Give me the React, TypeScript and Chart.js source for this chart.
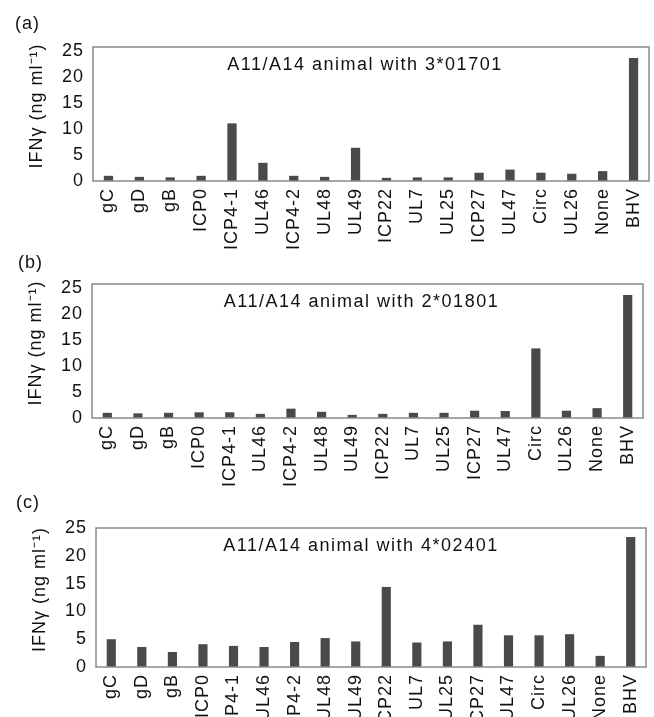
import React, { useEffect, useRef } from "react";
import { Chart, registerables } from "chart.js";
Chart.register(...registerables);

const categories = ["gC", "gD", "gB", "ICP0", "ICP4-1", "UL46", "ICP4-2", "UL48", "UL49", "ICP22", "UL7", "UL25", "ICP27", "UL47", "Circ", "UL26", "None", "BHV"];
const valuesA = [1.0, 0.8, 0.7, 1.0, 11.1, 3.5, 1.0, 0.8, 6.4, 0.6, 0.7, 0.7, 1.6, 2.2, 1.6, 1.4, 1.9, 23.7];
const valuesB = [1.0, 0.9, 1.0, 1.1, 1.1, 0.8, 1.8, 1.2, 0.6, 0.8, 1.0, 1.0, 1.4, 1.35, 13.4, 1.4, 1.9, 23.7];
const valuesC = [5.0, 3.6, 2.7, 4.1, 3.8, 3.6, 4.5, 5.2, 4.6, 14.4, 4.4, 4.6, 7.6, 5.7, 5.7, 5.9, 2.0, 23.4];
const yTickValues = [0, 5, 10, 15, 20, 25];
const yTitle = "IFNγ (ng ml⁻¹)";
const panelLetters = ["(a)", "(b)", "(c)"];
const panelTexts = ["A11/A14 animal with 3*01701", "A11/A14 animal with 2*01801", "A11/A14 animal with 4*02401"];

const FONT = '"Liberation Sans", Arial, sans-serif';
const SPACING = "1px";
const TEXT_COLOR = "#111";

const spacingPlugin = {
  id: "spacing",
  beforeUpdate(chart: any) {
    chart.ctx.letterSpacing = SPACING;
  },
  beforeDraw(chart: any) {
    chart.ctx.letterSpacing = SPACING;
  },
};

const framePlugin = {
  id: "frame",
  afterDraw(chart: any, _args: any, opts: any) {
    const { ctx, chartArea } = chart;
    const { left, top, right, bottom } = chartArea;
    ctx.save();
    ctx.strokeStyle = "#8a8a8a";
    ctx.lineWidth = 1.5;
    ctx.strokeRect(left, top, right - left, bottom - top);
    ctx.letterSpacing = "1.5px";
    ctx.font = `18px ${FONT}`;
    ctx.fillStyle = TEXT_COLOR;
    ctx.textAlign = "center";
    ctx.textBaseline = "middle";
    ctx.fillText(opts.text, (left + right) / 2 + opts.dx, top + opts.dy);
    // y-axis title
    ctx.letterSpacing = SPACING;
    ctx.translate(opts.titleX, (top + bottom) / 2 + opts.titleDy);
    ctx.rotate(-Math.PI / 2);
    ctx.fillText(yTitle, 0, 0);
    ctx.restore();
  },
};

type PanelProps = {
  values: number[];
  text: string;
  top: number;
  height: number;
  padTop: number;
  padLeft: number;
  padRight: number;
  yWidth: number;
  xHeight: number;
  yMax: number;
  dx: number;
  titleX: number;
};

function Panel(p: PanelProps) {
  const ref = useRef<HTMLCanvasElement | null>(null);
  useEffect(() => {
    if (!ref.current) return;
    const chart = new Chart(ref.current, {
      type: "bar",
      data: {
        labels: categories,
        datasets: [
          {
            data: p.values,
            backgroundColor: "#4a4a4a",
            barPercentage: 0.3,
            categoryPercentage: 1,
          },
        ],
      },
      options: {
        animation: false,
        responsive: false,
        maintainAspectRatio: false,
        layout: { padding: { top: p.padTop, left: p.padLeft, right: p.padRight, bottom: 0 } },
        plugins: {
          legend: { display: false },
          tooltip: { enabled: false },
          frame: { text: p.text, dx: p.dx, dy: 18, titleX: p.titleX, titleDy: -8 },
        } as any,
        scales: {
          x: {
            grid: { display: false, drawTicks: false },
            border: { display: false },
            ticks: {
              autoSkip: false,
              maxRotation: 90,
              minRotation: 90,
              padding: 7,
              color: TEXT_COLOR,
              font: { family: FONT, size: 18 },
            },
            afterFit: (s: any) => {
              s.height = p.xHeight;
              s.paddingLeft = 0;
              s.paddingRight = 0;
            },
          },
          y: {
            min: 0,
            max: p.yMax,
            grid: { display: false, drawTicks: false },
            border: { display: false },
            ticks: {
              stepSize: 5,
              padding: 9,
              color: TEXT_COLOR,
              font: { family: FONT, size: 18 },
            },
            afterBuildTicks: (s: any) => {
              s.ticks = yTickValues.map((v) => ({ value: v }));
            },
            afterFit: (s: any) => {
              s.width = p.yWidth;
              s.paddingTop = 0;
              s.paddingBottom = 0;
            },
          },
        },
      },
      plugins: [spacingPlugin as any, framePlugin as any],
    });
    return () => chart.destroy();
  }, []);
  return (
    <canvas
      ref={ref}
      width={654}
      height={p.height}
      style={{ position: "absolute", left: 0, top: p.top, width: 654, height: p.height }}
    />
  );
}

const letterStyle = (top: number, left: number): React.CSSProperties => ({
  position: "absolute",
  top,
  left,
  fontFamily: FONT,
  fontSize: 18,
  letterSpacing: SPACING,
  color: TEXT_COLOR,
  lineHeight: "20px",
});

export default function App() {
  return (
    <div style={{ position: "absolute", left: 0, top: 0, width: 654, height: 717, background: "#fff", overflow: "hidden" }}>
      <Panel values={valuesA} text={panelTexts[0]} top={0} height={260} padTop={47} padLeft={27} padRight={5} yWidth={66} xHeight={79} yMax={25.8} dx={-6} titleX={37} />
      <Panel values={valuesB} text={panelTexts[1]} top={240} height={260} padTop={44} padLeft={26} padRight={11} yWidth={66} xHeight={82} yMax={25.8} dx={-6} titleX={36} />
      <Panel values={valuesC} text={panelTexts[2]} top={480} height={237} padTop={48} padLeft={30} padRight={8} yWidth={66} xHeight={50} yMax={25} dx={-10} titleX={40} />
      <div style={letterStyle(13, 15)}>{panelLetters[0]}</div>
      <div style={letterStyle(252, 18)}>{panelLetters[1]}</div>
      <div style={letterStyle(492, 16)}>{panelLetters[2]}</div>
    </div>
  );
}
